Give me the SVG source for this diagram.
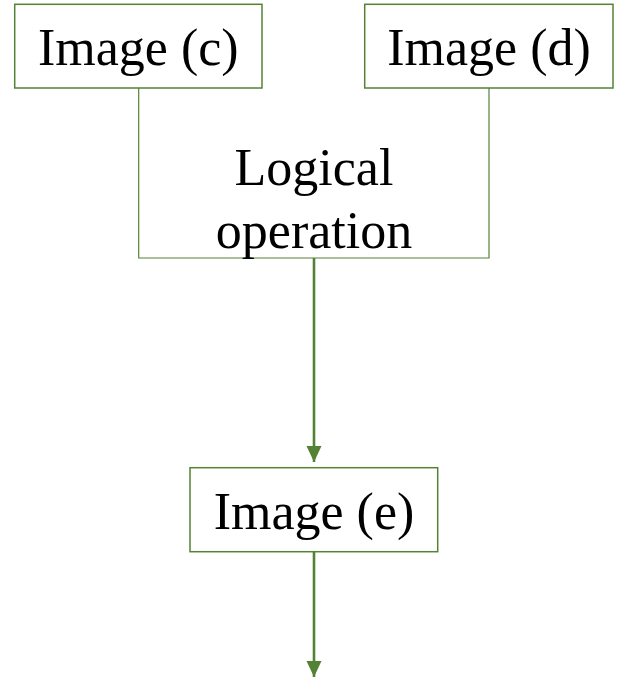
<svg xmlns="http://www.w3.org/2000/svg" width="621" height="678" viewBox="0 0 621 678">
<style>
.box{fill:#fff;stroke:#548235;stroke-width:1.5}
.thin{fill:none;stroke:#548235;stroke-width:1.2}
.arr{fill:none;stroke:#548235;stroke-width:2.6}
text{font-family:"Liberation Serif","Times New Roman",serif;font-size:52px;fill:#000;text-anchor:middle}
</style>
<defs>
<marker id="ah" markerUnits="userSpaceOnUse" markerWidth="16" markerHeight="16" viewBox="0 0 16 16" refX="16" refY="8" orient="auto">
<path d="M0,0.5 L16,8 L0,15.5 Z" fill="#548235"/>
</marker>
</defs>
<rect width="621" height="678" fill="#fff"/>
<g id="connectors">
<polyline class="thin" points="138.7,88 138.7,258 489,258 489,88"/>
<line class="arr" x1="314" y1="258" x2="314" y2="462" marker-end="url(#ah)"/>
<line class="arr" x1="314" y1="552" x2="314" y2="677" marker-end="url(#ah)"/>
<text x="314" y="185">Logical</text>
<text x="314" y="248">operation</text>
</g>
<g id="node-c">
<rect class="box" x="14.7" y="4.3" width="247.3" height="83.7"/>
<text x="138.3" y="65">Image (c)</text>
</g>
<g id="node-d">
<rect class="box" x="364.7" y="4.3" width="248.3" height="83.7"/>
<text x="489" y="65">Image (d)</text>
</g>
<g id="node-e">
<rect class="box" x="190" y="467.7" width="247.7" height="84"/>
<text x="314" y="529">Image (e)</text>
</g>
</svg>
